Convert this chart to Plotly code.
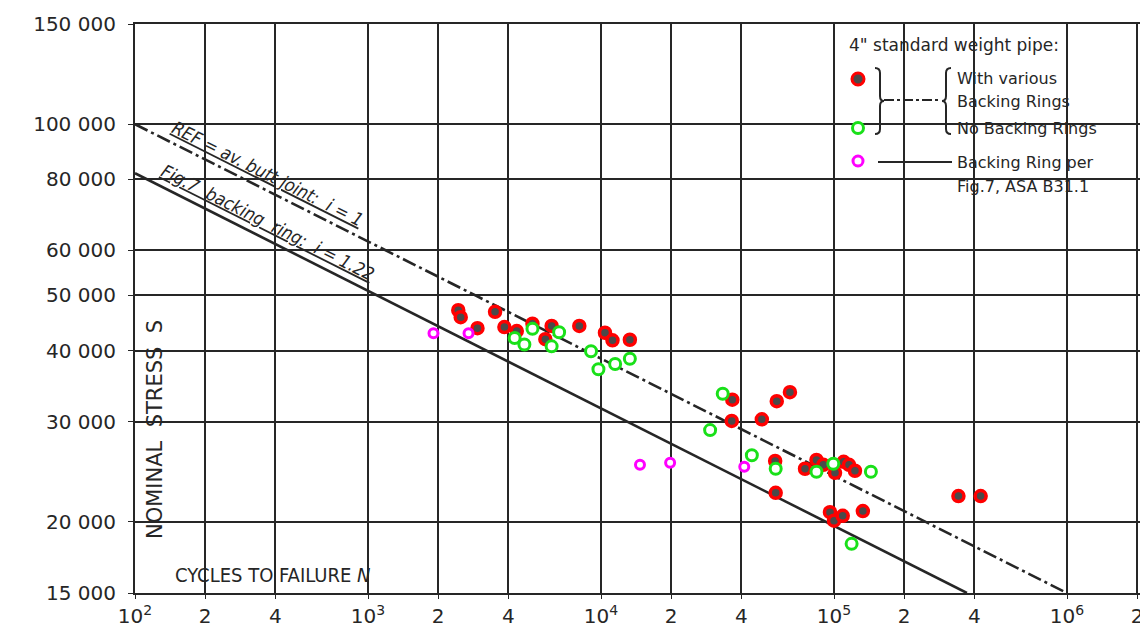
import math
import plotly.graph_objects as go

# ---------------- data ----------------
red_N = [2440, 2500, 3510, 2950, 3850, 4350, 5080, 6140, 5770, 8070,
         10400, 11200, 13300, 36600, 56800, 64700, 36400, 49000, 55900, 56200,
         75100, 84100, 90000, 101000, 110000, 116000, 123000, 96100, 100000, 109000,
         133000, 342000, 426000]
red_S = [47100, 45800, 46800, 43800, 44000, 43300, 44600, 44200, 41900, 44200,
         43000, 41700, 41800, 32800, 32600, 33800, 30100, 30300, 25600, 22500,
         24800, 25700, 25200, 24400, 25500, 25200, 24600, 20800, 20100, 20500,
         20900, 22200, 22200]

green_N = [5080, 6610, 6140, 4260, 4690, 9060, 9750, 11500, 13300, 33300,
           29400, 44400, 56200, 84100, 99300, 144000, 119000]
green_S = [43700, 43100, 40700, 42100, 41000, 39900, 37100, 37900, 38700, 33600,
           29000, 26200, 24800, 24500, 25300, 24500, 18300]

mag_N = [1910, 2700, 14700, 19800, 41200]
mag_S = [42900, 42900, 25200, 25400, 25000]

ref_N = [100, 1000000]
ref_S = [100000, 15000]
fig7_N = [100, 372000]
fig7_S = [82000, 15000]

x_tickvals = [100, 200, 400, 1000, 2000, 4000, 10000, 20000, 40000,
              100000, 200000, 400000, 1000000, 2000000]
x_ticktext = ["10<sup>2</sup>", "2", "4", "10<sup>3</sup>", "2", "4", "10<sup>4</sup>", "2", "4",
              "10<sup>5</sup>", "2", "4", "10<sup>6</sup>", "2"]
y_tickvals = [15000, 20000, 30000, 40000, 50000, 60000, 80000, 100000, 150000]
y_ticktext = ["15 000", "20 000", "30 000", "40 000", "50 000", "60 000",
              "80 000", "100 000", "150 000"]

# ---------------- figure ----------------
INK = "#262626"
RED = "#ff0000"
GREEN = "#19e019"
MAG = "#ff00ff"
FONT = "DejaVu Sans"
NARROW = "Liberation Sans Narrow, DejaVu Sans Condensed, sans-serif"

fig = go.Figure()

fig.add_trace(go.Scatter(x=ref_N, y=ref_S, mode="lines",
                         line=dict(color=INK, width=2.6, dash="14px,4px,3px,4px"),
                         showlegend=False, hoverinfo="skip"))
fig.add_trace(go.Scatter(x=fig7_N, y=fig7_S, mode="lines",
                         line=dict(color=INK, width=2.6),
                         showlegend=False, hoverinfo="skip"))
fig.add_trace(go.Scatter(x=red_N, y=red_S, mode="markers",
                         marker=dict(size=11, color="#4a4a4a", line=dict(color=RED, width=3.5)),
                         showlegend=False))
fig.add_trace(go.Scatter(x=mag_N, y=mag_S, mode="markers",
                         marker=dict(size=9, color="white", line=dict(color=MAG, width=3)),
                         showlegend=False))
fig.add_trace(go.Scatter(x=green_N, y=green_S, mode="markers",
                         marker=dict(size=11, color="white", line=dict(color=GREEN, width=3)),
                         showlegend=False))

# page geometry (the page body adds an 8px offset)
OFF = 8
W, H = 1140, 627
L, R, T, B = 127, 8, 16, 42
PW, PH = W - L - R, H - T - B
DECADE_PX = 233.0


def px(xp):
    return (xp - OFF - L) / PW


def py(yp):
    return (OFF + H - B - yp) / PH


shapes = []
# white legend box covering grid
shapes.append(dict(type="rect", xref="paper", yref="paper", x0=px(837), x1=px(1138),
                   y0=py(205), y1=py(25), fillcolor="white", line=dict(width=0), layer="between"))

# legend symbols
def circ(xp, yp, fill, col, r=6):
    return dict(type="circle", xref="paper", yref="paper", xsizemode="pixel", ysizemode="pixel",
                xanchor=px(xp), yanchor=py(yp), x0=-r, x1=r, y0=-r, y1=r,
                fillcolor=fill, line=dict(color=col, width=3), layer="above")

shapes.append(circ(858, 79, "#4a4a4a", RED))
shapes.append(circ(858, 128, "white", GREEN, r=5.5))
shapes.append(circ(858, 161, "white", MAG, r=5))

rb = "M -4,33 Q 1,33 1,28 L 1,5 Q 1,0 5,0 Q 1,0 1,-5 L 1,-28 Q 1,-33 -4,-33"
lb = "M 4,33 Q -1,33 -1,28 L -1,5 Q -1,0 -5,0 Q -1,0 -1,-5 L -1,-28 Q -1,-33 4,-33"
for path, xp in [(rb, 879), (lb, 947)]:
    shapes.append(dict(type="path", xref="paper", yref="paper", xsizemode="pixel", ysizemode="pixel",
                       xanchor=px(xp), yanchor=py(101), path=path,
                       line=dict(color=INK, width=2), layer="above"))
shapes.append(dict(type="line", xref="paper", yref="paper", x0=px(884), x1=px(941),
                   y0=py(100), y1=py(100), line=dict(color=INK, width=2.2, dash="10px,3px,3px,3px"),
                   layer="above"))
shapes.append(dict(type="line", xref="paper", yref="paper", x0=px(878), x1=px(952),
                   y0=py(162), y1=py(162), line=dict(color=INK, width=2.2), layer="above"))

annotations = []

def txt(text, xp, yp, size=16, xanchor="left", angle=0, family=FONT, style="normal"):
    annotations.append(dict(text=text, xref="paper", yref="paper", x=px(xp), y=py(yp),
                            xanchor=xanchor, yanchor="middle", showarrow=False, textangle=angle,
                            font=dict(family=family, size=size, color=INK, style=style)))

txt("4\" standard weight pipe:", 847, 45, size=17)
txt("With various", 955, 79, size=16)
txt("Backing Rings", 955, 101, size=16)
txt("No Backing Rings", 955, 128, size=16)
txt("Backing Ring per", 955, 162, size=16)
txt("Fig.7, ASA B31.1", 955, 186, size=16)

txt("NOMINAL  STRESS  S", 155, 430, size=21, xanchor="center", angle=-90)
txt("CYCLES TO FAILURE <i>N</i>", 272, 575, size=20, xanchor="center", family=NARROW)

# line labels (placed along the lines, in data coordinates)
slope_deg = math.degrees(math.atan((math.log10(ref_S[0]) - math.log10(ref_S[1])) /
                                   (math.log10(ref_N[1]) - math.log10(ref_N[0])) * PH / DECADE_PX))
annotations.append(dict(text="<u>REF = av. butt joint:  i = 1</u>", x=math.log10(370), y=math.log10(81800),
                        xref="x", yref="y", showarrow=False, textangle=slope_deg,
                        font=dict(family=NARROW, size=18, color=INK, style="italic")))
annotations.append(dict(text="<u>Fig.7  backing  ring:  i = 1.22</u>", x=math.log10(372), y=math.log10(67100),
                        xref="x", yref="y", showarrow=False, textangle=slope_deg,
                        font=dict(family=NARROW, size=18, color=INK, style="italic")))

fig.update_layout(
    width=W, height=H,
    margin=dict(l=L, r=R, t=T, b=B, autoexpand=False),
    paper_bgcolor="white", plot_bgcolor="white",
    shapes=shapes, annotations=annotations,
    showlegend=False,
)
fig.update_xaxes(type="log", range=[2, 2 + PW / DECADE_PX], automargin=False,
                 tickvals=x_tickvals, ticktext=x_ticktext,
                 showgrid=True, gridcolor=INK, gridwidth=1.8,
                 showline=True, linecolor=INK, linewidth=2.2, mirror=True,
                 ticks="outside", ticklen=4, tickcolor=INK,
                 tickfont=dict(family=FONT, size=20, color=INK), zeroline=False)
fig.update_yaxes(type="log", range=[math.log10(15000), math.log10(150000)], automargin=False,
                 tickvals=y_tickvals, ticktext=y_ticktext,
                 showgrid=True, gridcolor=INK, gridwidth=1.8,
                 showline=True, linecolor=INK, linewidth=2.2, mirror=True,
                 ticks="outside", ticklen=5, tickcolor=INK, ticklabelstandoff=8,
                 tickfont=dict(family=FONT, size=20, color=INK), zeroline=False)

fig.write_html("out.html")
